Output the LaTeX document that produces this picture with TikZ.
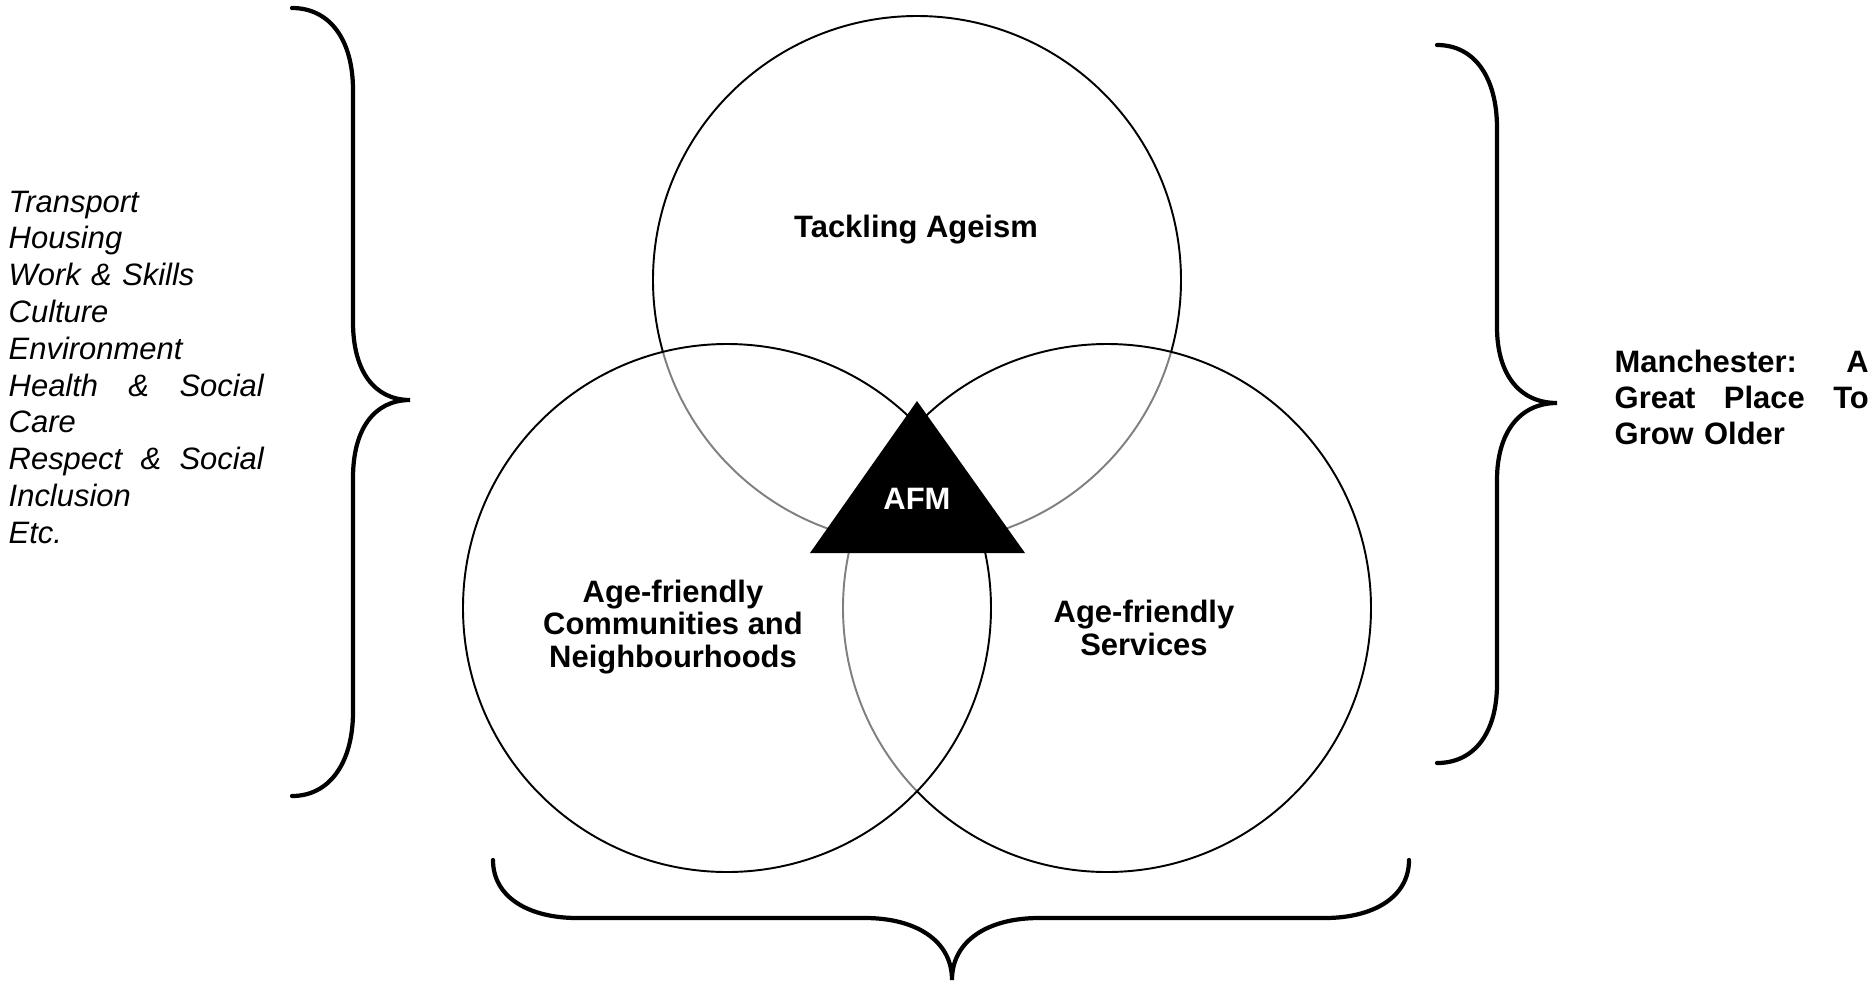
\documentclass[tikz,border=0pt]{standalone}
\usepackage{fontspec}
\setmainfont{Liberation Sans}
\usetikzlibrary{positioning}

\begin{document}
\begin{tikzpicture}[x=0.01cm,y=-0.01cm,
  venn/.style={draw=black,line width=0.55pt,fill=white,fill opacity=0.5},
  brace/.style={draw=black,line width=1.2pt,line cap=round},
  lbl/.style={font=\bfseries\fontsize{8.8}{9.2}\selectfont,align=center,inner sep=0pt},
  side/.style={inner sep=0pt,anchor=north west,text width=2.55cm,align=left}]
\useasboundingbox (0,0) rectangle (1872,981);
\fill[white] (0,0) rectangle (1872,981);
% the three circles, later ones veil the earlier ones
\draw[venn] (917,280) circle[radius=264];
\draw[venn] (1107,608) circle[radius=264];
\draw[venn] (727,608) circle[radius=264];
\node[lbl] (ageism) at (916,230) {Tackling Ageism};
\node[lbl] (comm) at (673,627) {Age-friendly\\Communities and\\Neighbourhoods};
\node[lbl] (serv) at (1144,628) {Age-friendly\\Services};
% centre triangle
\fill[black] (917,401) -- (810,553) -- (1025,553) -- cycle;
\node[lbl,text=white] (afm) at (917,499) {AFM};
% braces
\draw[brace] (292,8) .. controls (330,8) and (353,40) .. (353,90) -- (353,322)
  .. controls (353,372) and (375,400) .. (410,400)
  .. controls (375,400) and (353,428) .. (353,478) -- (353,712)
  .. controls (353,762) and (330,796) .. (292,796);
\draw[brace] (1437,45) .. controls (1475,45) and (1497,78) .. (1497,128) -- (1497,327)
  .. controls (1497,375) and (1520,403) .. (1557,403)
  .. controls (1520,403) and (1497,432) .. (1497,480) -- (1497,684)
  .. controls (1497,732) and (1475,763) .. (1437,763);
\draw[brace] (493,860) .. controls (493,898) and (530,918) .. (577,918) -- (865,918)
  .. controls (915,918) and (952,940) .. (952,980)
  .. controls (952,940) and (989,918) .. (1039,918) -- (1325,918)
  .. controls (1372,918) and (1409,898) .. (1409,860);
% side texts
\node[side,font=\itshape\fontsize{8.8}{10.47}\selectfont] (themes) at (8,190)
  {Transport\\Housing\\Work \& Skills\\Culture\\Environment\\
   Health\hfill\&\hfill Social\\Care\\Respect\hfill\&\hfill Social\\Inclusion\\Etc.};
\node[side,text width=2.54cm,font=\bfseries\fontsize{8.8}{10.24}\selectfont] (goal) at (1614,349)
  {Manchester:\hfill A\\Great\hfill Place\hfill To\\Grow Older};
\end{tikzpicture}
\end{document}
